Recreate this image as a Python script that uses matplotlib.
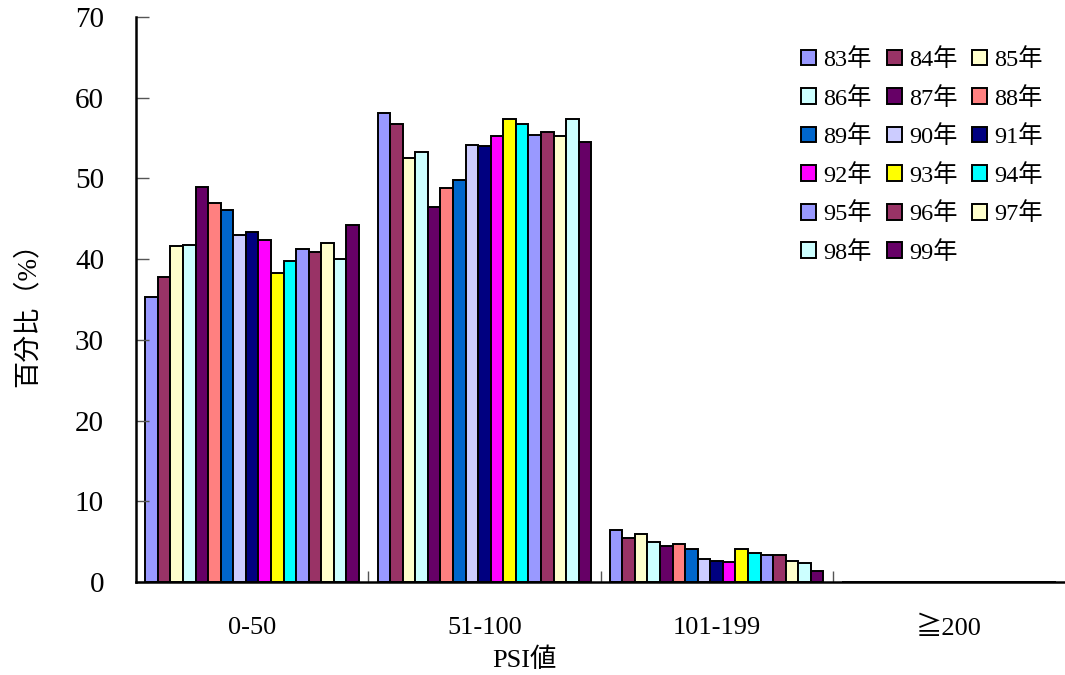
import numpy as np
import matplotlib
matplotlib.use('Agg')
import matplotlib.pyplot as plt

# PSI distribution by year (percent of days)
categories = ['0-50', '51-100', '101-199', '≧200']
years = ['83年', '84年', '85年', '86年', '87年', '88年', '89年', '90年', '91年',
         '92年', '93年', '94年', '95年', '96年', '97年', '98年', '99年']

psi_0_50 = [35.3, 37.8, 41.6, 41.8, 48.9, 46.9, 46.1, 43.0, 43.4,
            42.4, 38.3, 39.8, 41.2, 40.9, 42.0, 40.0, 44.2]
psi_51_100 = [58.1, 56.7, 52.5, 53.3, 46.5, 48.8, 49.8, 54.2, 54.0,
              55.2, 57.4, 56.7, 55.4, 55.8, 55.2, 57.4, 54.5]
psi_101_199 = [6.5, 5.5, 5.9, 5.0, 4.5, 4.7, 4.1, 2.8, 2.6,
               2.5, 4.1, 3.6, 3.4, 3.4, 2.6, 2.4, 1.4]
psi_200_up = [0] * 17

colors = ['#9999FF', '#993366', '#FFFFCC', '#CCFFFF', '#660066', '#FF8080',
          '#0066CC', '#CCCCFF', '#000080', '#FF00FF', '#FFFF00', '#00FFFF',
          '#9999FF', '#993366', '#FFFFCC', '#CCFFFF', '#660066']

plt.rcParams['font.family'] = ['Liberation Serif', 'Noto Sans CJK TC']

data = np.array([psi_0_50, psi_51_100, psi_101_199, psi_200_up])

fig = plt.figure(figsize=(10.65, 6.75), dpi=100)
ax = fig.add_axes([0.1277, 0.1378, 0.8723, 0.837])

n = len(years)
width = 0.92 / n
x = np.arange(len(categories))
handles = []
for i in range(n):
    pos = x - 0.46 + width * (i + 0.5)
    h = ax.bar(pos, data[:, i], width, color=colors[i], edgecolor='black',
               linewidth=1.4, label=years[i])
    handles.append(h)

ax.set_xlim(-0.5, 3.5)
ax.set_ylim(0, 70)
ax.set_yticks(range(0, 71, 10))
ax.set_xticks([0.5, 1.5, 2.5])
ax.set_xticklabels([])
ax.tick_params(axis='x', direction='in', length=8, color='#555555', width=1)
ax.tick_params(axis='y', direction='in', length=9, color='#555555', width=1,
               labelsize=21, pad=23)
for i, c in enumerate(categories):
    ax.text(i, -5.7, c, ha='center', va='center', fontsize=19)

ax.spines['top'].set_visible(False)
ax.spines['right'].set_visible(False)
ax.spines['left'].set_linewidth(1.8)
ax.spines['bottom'].set_linewidth(1.8)

fig.text(524 / 1065, 1 - 660 / 675, 'PSI値', ha='center', va='center', fontsize=19)
fig.text(28 / 1065, 1 - 308 / 675, '百分比（%）', ha='center', va='center',
         rotation=90, fontsize=19.5)

# legend filled row by row (matplotlib fills columns first)
order = [0, 3, 6, 9, 12, 15, 1, 4, 7, 10, 13, 16, 2, 5, 8, 11, 14]
leg = ax.legend([handles[k] for k in order], [years[k] for k in order],
                ncol=3, loc='upper left', bbox_to_anchor=(789 / 1065, 1 - 36 / 675),
                bbox_transform=fig.transFigure, frameon=False, fontsize=17.5,
                handlelength=0.62, handleheight=0.62, handletextpad=0.3,
                columnspacing=0.6, labelspacing=0.645, borderpad=0)

fig.savefig('out.png', dpi=100)
